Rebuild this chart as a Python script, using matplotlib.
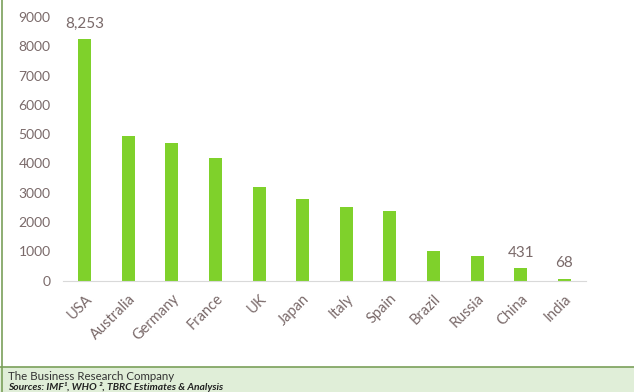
import matplotlib.pyplot as plt
from matplotlib.patches import Rectangle
from matplotlib.lines import Line2D
import numpy as np

countries = ["USA", "Australia", "Germany", "France", "UK", "Japan",
             "Italy", "Spain", "Brazil", "Russia", "China", "India"]
values = [8253, 4940, 4700, 4200, 3195, 2785, 2512, 2390, 1010, 848, 431, 68]
labelled = {"USA": "8,253", "China": "431", "India": "68"}
yticks = [0, 1000, 2000, 3000, 4000, 5000, 6000, 7000, 8000, 9000]

BAR = "#7fd12b"
TXT = "#7a6a6a"
FONT = ["Lato", "DejaVu Sans"]

plt.rcParams["font.family"] = FONT

W, H = 634, 392
fig = plt.figure(figsize=(W / 100, H / 100), dpi=100)
ax = fig.add_axes([63 / W, (H - 280.5) / H, (586 - 63) / W, (280.5 - 17.2) / H])

x = np.arange(len(countries))
ax.bar(x, values, width=0.3, color=BAR)
ax.set_xlim(-0.5, len(countries) - 0.5)
ax.set_ylim(0, 9000)
ax.set_yticks(yticks)
ax.set_yticklabels([str(v) for v in yticks], color=TXT, fontsize=10)
ax.set_xticks(x)
ax.set_xticklabels(countries, rotation=45, ha="right", rotation_mode="anchor",
                   color=TXT, fontsize=10.5)
ax.tick_params(axis="both", length=0)
ax.tick_params(axis="y", pad=9)
ax.tick_params(axis="x", pad=8)
for side in ["top", "right", "left"]:
    ax.spines[side].set_visible(False)
ax.spines["bottom"].set_color("#d9d9d9")

for i, c in enumerate(countries):
    if c in labelled:
        ax.annotate(labelled[c], xy=(i, values[i]), xytext=(0, 6),
                    textcoords="offset points", ha="center", va="bottom",
                    color=TXT, fontsize=11, clip_on=False)

# footer band and left border
fig.patches.append(Rectangle((0, 0), 1, (H - 367) / H, transform=fig.transFigure,
                             facecolor="#e0eed8", edgecolor="none", zorder=0))
fig.lines.append(Line2D([0, 1], [(H - 367) / H] * 2, transform=fig.transFigure,
                        color="#7aa05a", linewidth=1.2))
fig.lines.append(Line2D([1.5 / W] * 2, [0, 1], transform=fig.transFigure,
                        color="#7aa05a", linewidth=1.2))

fig.text(8 / W, (H - 376) / H, "The Business Research Company",
         fontsize=8.3, color="#333333", va="center", ha="left")
fig.text(8 / W, (H - 386.5) / H, "Sources: IMF\u00b9, WHO \u00b2, TBRC Estimates & Analysis",
         fontsize=7.4, color="#222222", va="center", ha="left",
         fontweight="bold", fontstyle="italic")

fig.savefig("out.png", dpi=100)
